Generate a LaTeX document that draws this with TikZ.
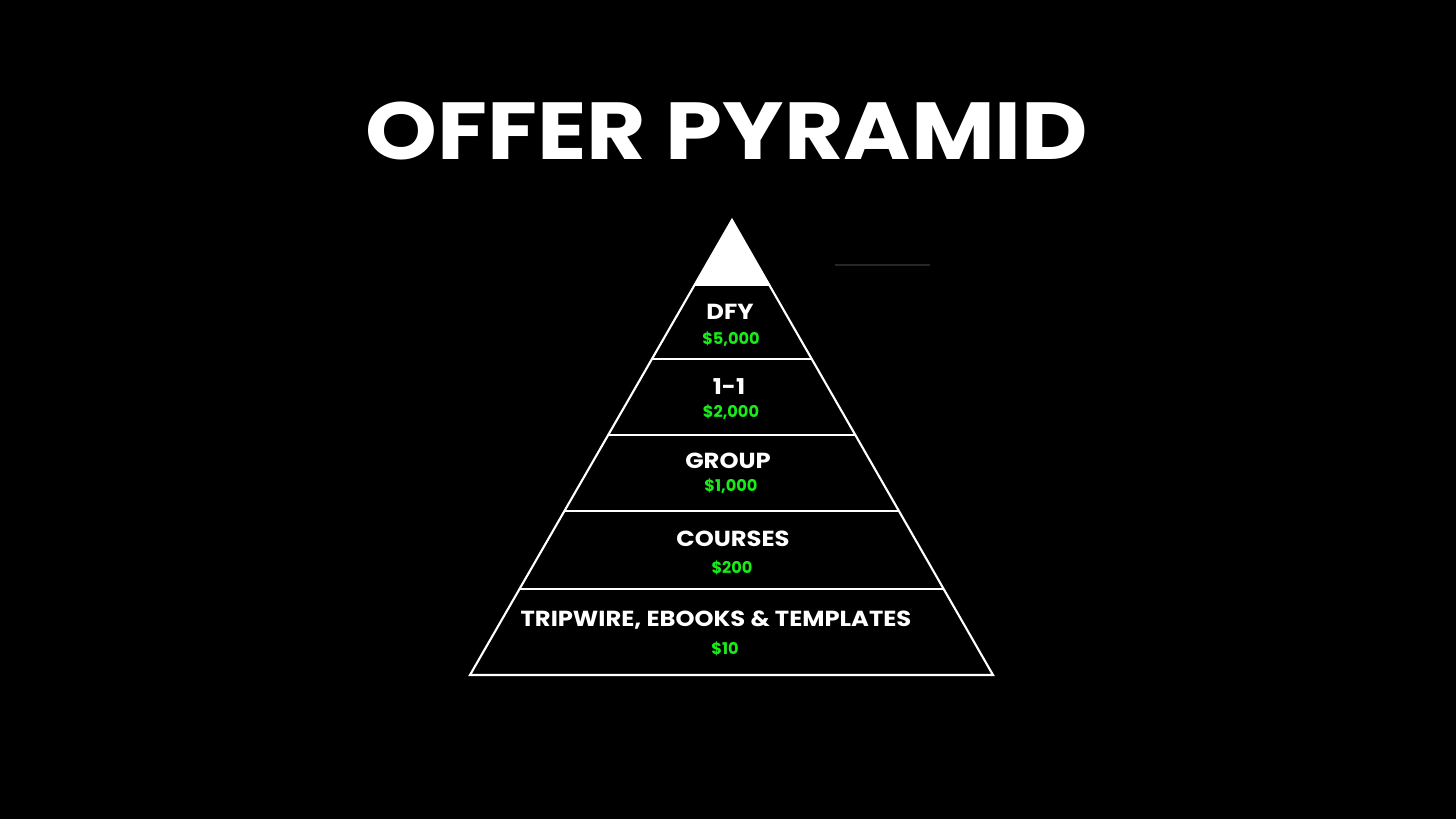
\documentclass[tikz,border=0pt]{standalone}
\usepackage{fontspec}
\setmainfont{Poppins}
\newfontfamily\widefont[FakeStretch=1.11]{Poppins}
\newfontfamily\headfont[FakeStretch=1.13]{Poppins}
\usetikzlibrary{positioning}
\definecolor{price}{RGB}{25,235,25}

\begin{document}
\begin{tikzpicture}[x=0.01cm, y=-0.01cm,
  tier/.style={font=\widefont\fontsize{6.2}{7}\selectfont\bfseries, text=white, inner sep=0pt, anchor=base},
  cost/.style={font=\fontsize{4.6}{5}\selectfont\bfseries, text=price, inner sep=0pt, anchor=base},
  edge/.style={draw=white, line width=0.6pt, line join=miter}]
\fill[black] (0,0) rectangle (1456,819);
\useasboundingbox (0,0) rectangle (1456,819);
\node[font=\headfont\fontsize{23}{28}\selectfont\bfseries, text=white, anchor=base, inner sep=0pt] (title) at (727,160) {OFFER PYRAMID};
% pyramid outline
\coordinate (apex) at (732,220);
\coordinate (bl) at (470,675);
\coordinate (br) at (993,675);
\fill[white] (apex) -- ({732-0.5747*65},285) -- ({732+0.5747*65},285) -- cycle;
\draw[edge] (apex) -- (bl) -- (br) -- cycle;
\foreach \y in {285,359,435,511,589}
  \draw[edge] ({732-0.5747*(\y-220)},\y) -- ({732+0.5747*(\y-220)},\y);
% faint stray mark
\draw[black!85!white, line width=0.3pt] (835,265) -- (930,265);
% tiers and prices
\foreach \lbl/\xl/\yl/\amt/\xa/\ya [count=\i] in {DFY/730/320/{\$5,000}/731/345, 1-1/729/395/{\$2,000}/731/418,
    GROUP/728/469/{\$1,000}/731/492, COURSES/733/547/{\$200}/732/574,
    {TRIPWIRE, EBOOKS \& TEMPLATES}/716/627/{\$10}/725/655} {
  \node[tier] (tier\i) at (\xl,\yl) {\lbl};
  \node[cost] (cost\i) at (\xa,\ya) {\amt};
}
\end{tikzpicture}
\end{document}
